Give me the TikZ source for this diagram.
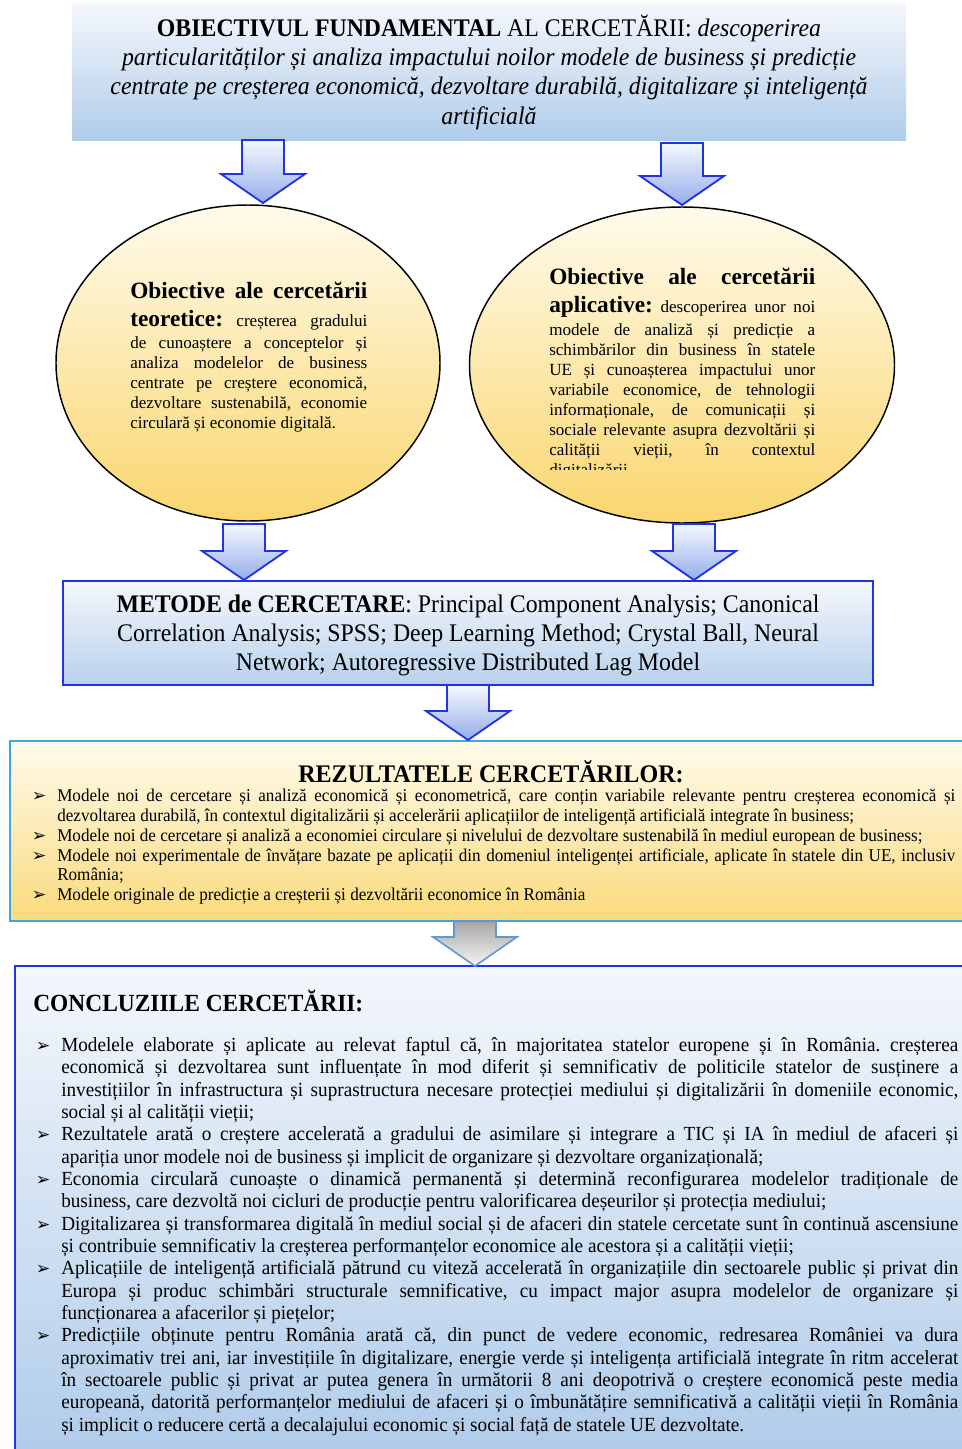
\documentclass[tikz,border=0pt]{standalone}
\usepackage{fontspec}
\setmainfont{Liberation Serif}
\newfontfamily\estrecha[FakeStretch=0.94]{Liberation Serif}
\newfontfamily\estrechab[FakeStretch=0.95]{Liberation Serif}
\newfontfamily\estrechac[FakeStretch=0.96]{Liberation Serif}
\newfontfamily\simbolo{DejaVu Sans}
\usetikzlibrary{shapes.geometric,calc}

\newdimen\upx \upx=0.75pt

\definecolor{azulborde}{RGB}{34,52,226}
\definecolor{azulfondo}{RGB}{176,204,234}
\definecolor{azulpalido}{RGB}{244,247,252}
\definecolor{amarillo}{RGB}{250,214,110}
\definecolor{crema}{RGB}{255,251,236}
\definecolor{cian}{RGB}{60,168,222}
\definecolor{grisborde}{RGB}{96,152,212}

\tikzset{
  flechaazul/.style={draw=azulborde, line width=1.4pt, top color=azulpalido, bottom color=azulfondo!85!blue},
  flechagris/.style={draw=grisborde, line width=1.2pt, top color=black!35, bottom color=black!4},
  cajaobj/.style={rectangle, inner sep=0pt, top color=azulpalido, bottom color=azulfondo},
  cajamet/.style={rectangle, draw=azulborde, line width=1.6pt, inner sep=0pt, top color=azulpalido, bottom color=azulfondo!90},
  cajarez/.style={rectangle, draw=cian, line width=1.6pt, inner sep=0pt, top color=crema, bottom color=amarillo!90},
  cajacon/.style={rectangle, draw=azulborde, line width=1.6pt, inner sep=0pt, top color=azulpalido, bottom color=azulfondo},
  elipse/.style={ellipse, draw=black, line width=1.1pt, inner sep=0pt, top color=crema, bottom color=amarillo},
  textoelip/.style={inner sep=0pt, anchor=north west, align=justify, font=\fontsize{12.8}{15}\selectfont},
}

% flecha gruesa vertical: #2 arranque, #3 punta
\newcommand{\flecha}[3][flechaazul]{%
  \path[#1] ($(#2)+(-21,0)$) -- ($(#3)+(-21,-29)$) -- ($(#3)+(-42,-29)$) -- (#3)
    -- ($(#3)+(42,-29)$) -- ($(#3)+(21,-29)$) -- ($(#2)+(21,0)$) -- cycle;}
\newcommand{\titelip}[1]{{\fontsize{17.5}{19}\selectfont\bfseries #1}}
\newcommand{\vineta}{\noindent\hangindent=18pt\hangafter=1\makebox[18pt][l]{\hspace{-1pt}\simbolo\fontsize{13}{13}\selectfont ➢}}

\begin{document}
\begin{tikzpicture}[x=0.75pt,y=-0.75pt]
\useasboundingbox (0,0) rectangle (962,1449);
\hyphenpenalty=10000 \emergencystretch=20pt \hbadness=10000 \frenchspacing

%objetivo fundamental
\node [cajaobj, minimum width=834\upx, minimum height=137\upx, align=center,
  font=\estrecha\fontsize{19}{22}\selectfont] (obj) at (489,72)
  {\textbf{OBIECTIVUL FUNDAMENTAL} AL CERCETĂRII: \textit{descoperirea}\\
   \textit{particularităților și analiza impactului noilor modele de business și predicție}\\
   \textit{centrate pe creșterea economică, dezvoltare durabilă, digitalizare și inteligență}\\
   \textit{artificială}};

%las dos elipses
\node [elipse, minimum width=384\upx, minimum height=316\upx] (teo) at (248,363) {};
\node [elipse, minimum width=425\upx, minimum height=316\upx] (apl) at (682,365) {};

\node [textoelip, text width=237\upx] (teotxt) at (130,282)
  {\noindent\titelip{Obiective ale cercetării}\linebreak
   \titelip{teoretice:}\rule{0pt}{20pt} creșterea gradului\linebreak
   \rule{0pt}{12.5pt}de cunoaștere a conceptelor și\linebreak
   analiza modelelor de business\linebreak
   centrate pe creștere economică,\linebreak
   dezvoltare sustenabilă, economie\linebreak
   circulară și economie digitală.};

\begin{scope}
\clip (540,250) rectangle (830,469);
\node [textoelip, text width=266\upx] (apltxt) at (549,268)
  {\noindent\titelip{Obiective ale cercetării}\linebreak
   \titelip{aplicative:}\rule{0pt}{20pt} descoperirea unor noi\linebreak
   \rule{0pt}{12.5pt}modele de analiză și predicție a\linebreak
   schimbărilor din business în statele\linebreak
   UE și cunoașterea impactului unor\linebreak
   variabile economice, de tehnologii\linebreak
   informaționale, de comunicații și\linebreak
   sociale relevante asupra dezvoltării și\linebreak
   calității vieții, în contextul\linebreak
   digitalizării};
\end{scope}

%metodos
\node [cajamet, minimum width=810\upx, minimum height=104\upx, align=center,
  font=\estrecha\fontsize{19}{22}\selectfont] (met) at (468,633)
  {\rule{0pt}{17pt}\textbf{METODE de CERCETARE}: Principal Component Analysis; Canonical\\
   Correlation Analysis; SPSS; Deep Learning Method; Crystal Ball, Neural\\
   Network; Autoregressive Distributed Lag Model};

%resultados
\node [cajarez, minimum width=990\upx, minimum height=180\upx] (rez) at (505,831) {};
\node [inner sep=0pt, font=\estrechab\fontsize{19}{20}\selectfont\bfseries] (reztit) at (491,772)
  {REZULTATELE CERCETĂRILOR:};
\node [inner sep=0pt, anchor=north west, text width=922\upx, align=justify,
  font=\estrechab\fontsize{13.5}{14.85}\selectfont] (rezlista) at (33,789)
  {\vineta Modele noi de cercetare și analiză economică și econometrică, care conțin variabile relevante pentru creșterea economică și\linebreak
   dezvoltarea durabilă, în contextul digitalizării și accelerării aplicațiilor de inteligență artificială integrate în business;\par
   \vineta Modele noi de cercetare și analiză a economiei circulare și nivelului de dezvoltare sustenabilă în mediul european de business;\par
   \vineta Modele noi experimentale de învățare bazate pe aplicații din domeniul inteligenței artificiale, aplicate în statele din UE, inclusiv\linebreak
   România;\par
   \vineta Modele originale de predicție a creșterii și dezvoltării economice în România\par};

%concluzii
\node [cajacon, minimum width=980\upx, minimum height=490\upx] (con) at (505,1211) {};
\node [inner sep=0pt, anchor=west, font=\estrechab\fontsize{18.5}{20}\selectfont\bfseries] (contit) at (33,1001)
  {CONCLUZIILE CERCETĂRII:};
\node [inner sep=0pt, anchor=north west, text width=921\upx, align=justify,
  font=\estrechac\fontsize{15}{16.76}\selectfont] (conlista) at (37,1037)
  {\vineta Modelele elaborate și aplicate au relevat faptul că, în majoritatea statelor europene și în România. creșterea\linebreak
   economică și dezvoltarea sunt influențate în mod diferit și semnificativ de politicile statelor de susținere a\linebreak
   investițiilor în infrastructura și suprastructura necesare protecției mediului și digitalizării în domeniile economic,\linebreak
   social și al calității vieții;\par
   \vineta Rezultatele arată o creștere accelerată a gradului de asimilare și integrare a TIC și IA în mediul de afaceri și\linebreak
   apariția unor modele noi de business și implicit de organizare și dezvoltare organizațională;\par
   \vineta Economia circulară cunoaște o dinamică permanentă și determină reconfigurarea modelelor tradiționale de\linebreak
   business, care dezvoltă noi cicluri de producție pentru valorificarea deșeurilor și protecția mediului;\par
   \vineta Digitalizarea și transformarea digitală în mediul social și de afaceri din statele cercetate sunt în continuă ascensiune\linebreak
   și contribuie semnificativ la creșterea performanțelor economice ale acestora și a calității vieții;\par
   \vineta Aplicațiile de inteligență artificială pătrund cu viteză accelerată în organizațiile din sectoarele public și privat din\linebreak
   Europa și produc schimbări structurale semnificative, cu impact major asupra modelelor de organizare și\linebreak
   funcționarea a afacerilor și piețelor;\par
   \vineta Predicțiile obținute pentru România arată că, din punct de vedere economic, redresarea României va dura\linebreak
   aproximativ trei ani, iar investițiile în digitalizare, energie verde și inteligența artificială integrate în ritm accelerat\linebreak
   în sectoarele public și privat ar putea genera în următorii 8 ani deopotrivă o creștere economică peste media\linebreak
   europeană, datorită performanțelor mediului de afaceri și o îmbunătățire semnificativă a calității vieții în România\linebreak
   și implicit o reducere certă a decalajului economic și social față de statele UE dezvoltate.\par};

%puntos de las flechas
\coordinate (f1a) at (263,140);  \coordinate (f1b) at (263,203);
\coordinate (f2a) at (682,143);  \coordinate (f2b) at (682,205);
\coordinate (f3a) at (244,524);  \coordinate (f3b) at (244,580);
\coordinate (f4a) at (694,524);  \coordinate (f4b) at (694,580);
\coordinate (f5a) at (468,685);  \coordinate (f5b) at (468,740);
\coordinate (f6a) at (475,921);  \coordinate (f6b) at (475,966);

%flechas
\flecha{f1a}{f1b}
\flecha{f2a}{f2b}
\flecha{f3a}{f3b}
\flecha{f4a}{f4b}
\flecha{f5a}{f5b}
\flecha[flechagris]{f6a}{f6b}
\end{tikzpicture}
\end{document}
